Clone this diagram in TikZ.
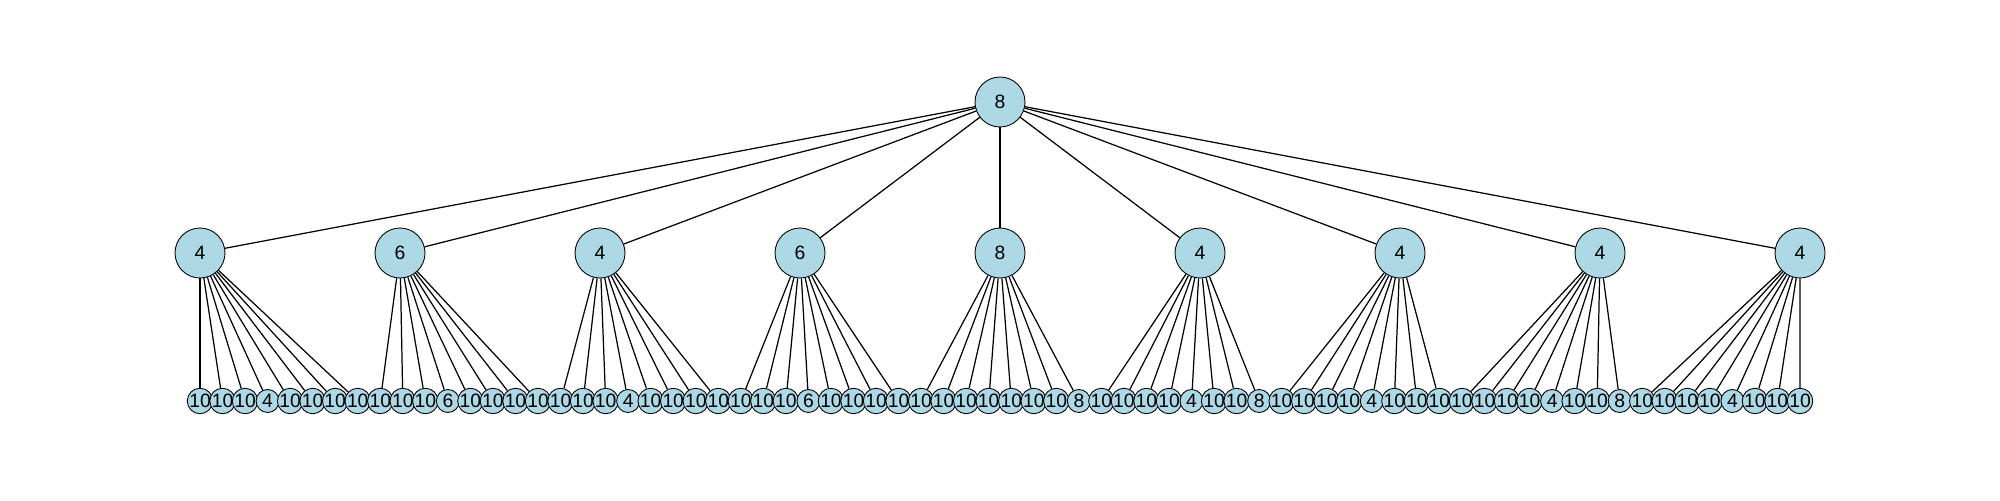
\documentclass[tikz,border=0pt]{standalone}
\usepackage{fontspec}
\setmainfont{Liberation Sans}
\usetikzlibrary{backgrounds}
\definecolor{nodeblue}{RGB}{173,216,230}

\begin{document}
\begin{tikzpicture}[
  x=0.02cm,
  y=-0.02cm,
  bignode/.style={draw, circle, line width=0.5pt, fill=nodeblue, inner sep=0pt, minimum size=1.0cm, font=\fontsize{11}{13}\selectfont},
  leaf/.style={draw, circle, line width=0.5pt, fill=nodeblue, inner sep=0pt, minimum size=0.46cm, font=\fontsize{11}{13}\selectfont},
  link/.style={line width=0.7pt}
]
\useasboundingbox (0,0) rectangle (2000,500);

% root and second level
\node[bignode] (root) at (1000,102) {8};
\foreach \lab [count=\k from 0] in {4,6,4,6,8,4,4,4,4} {
  \node[bignode] (m\k) at (200+200*\k,253) {\lab};
}

% leaves, eight under each second-level node
\foreach \lab [count=\i from 0] in {10,10,10,4,10,10,10,10, 10,10,10,6,10,10,10,10,
    10,10,10,4,10,10,10,10, 10,10,10,6,10,10,10,10, 10,10,10,10,10,10,10,8,
    10,10,10,10,4,10,10,8, 10,10,10,10,4,10,10,10, 10,10,10,10,4,10,10,8,
    10,10,10,10,4,10,10,10} {
  \pgfmathsetmacro\xx{200+\i*22.5352}
  \node[leaf] (l\i) at (\xx,401) {\lab};
}

\begin{scope}[on background layer]
  \foreach \k in {0,...,8} {
    \draw[link] (root) -- (m\k);
  }
  \foreach \i in {0,...,71} {
    \pgfmathtruncatemacro\p{int(\i/8)}
    \draw[link] (m\p) -- (l\i);
  }
\end{scope}

\end{tikzpicture}
\end{document}
